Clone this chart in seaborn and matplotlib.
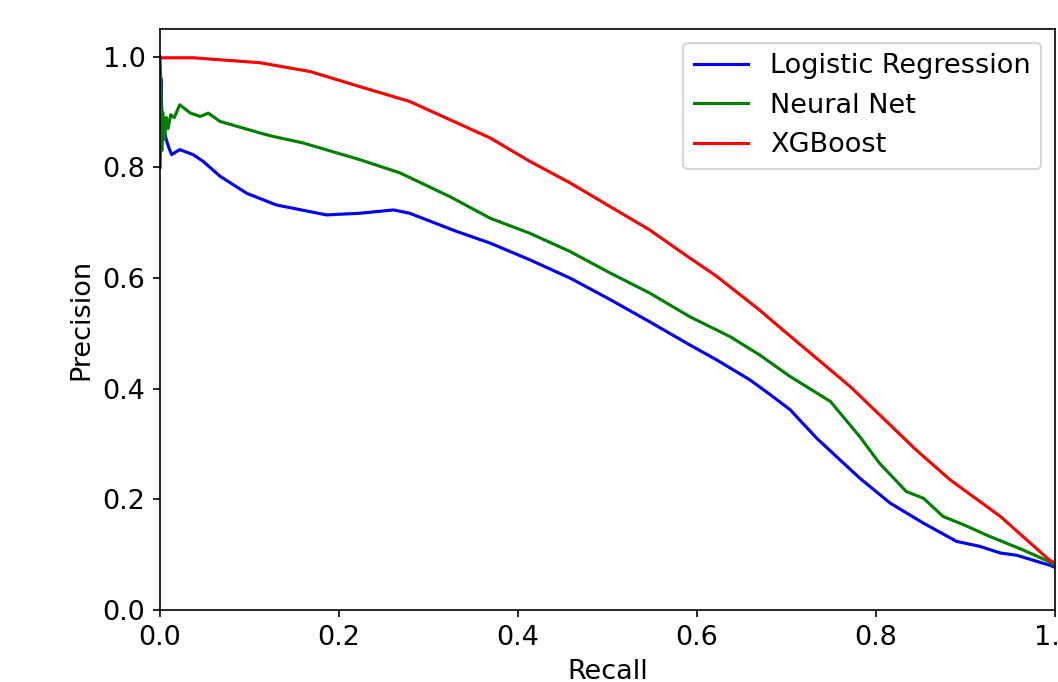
import numpy as np
import pandas as pd
import seaborn as sns
import matplotlib
matplotlib.use("Agg")
import matplotlib.pyplot as plt

plt.rcParams["font.size"] = 13

models = ["Logistic Regression", "Neural Net", "XGBoost"]
colors = ["blue", "green", "red"]

lr_recall = [0.0, 0.001, 0.002, 0.004, 0.007, 0.010, 0.013, 0.022, 0.037, 0.048, 0.067, 0.097, 0.130, 0.186, 0.223, 0.261, 0.279, 0.330, 0.369, 0.413, 0.458, 0.503, 0.547, 0.592, 0.622, 0.659, 0.682, 0.704, 0.734, 0.782, 0.816, 0.853, 0.890, 0.916, 0.939, 0.957, 0.994, 1.0]
lr_precision = [0.80, 0.96, 0.90, 0.87, 0.85, 0.835, 0.823, 0.832, 0.823, 0.811, 0.784, 0.753, 0.732, 0.714, 0.717, 0.723, 0.717, 0.685, 0.663, 0.633, 0.600, 0.561, 0.521, 0.479, 0.452, 0.416, 0.389, 0.362, 0.310, 0.238, 0.193, 0.157, 0.124, 0.115, 0.103, 0.099, 0.081, 0.077]

nn_recall = [0.0, 0.001, 0.002, 0.003, 0.005, 0.007, 0.009, 0.012, 0.016, 0.022, 0.034, 0.045, 0.054, 0.067, 0.112, 0.126, 0.160, 0.223, 0.268, 0.324, 0.369, 0.413, 0.458, 0.503, 0.547, 0.592, 0.637, 0.670, 0.704, 0.749, 0.782, 0.804, 0.834, 0.853, 0.875, 0.898, 0.927, 0.965, 0.994, 1.0]
nn_precision = [1.0, 0.95, 0.83, 0.90, 0.85, 0.89, 0.87, 0.895, 0.89, 0.913, 0.898, 0.892, 0.898, 0.883, 0.862, 0.856, 0.844, 0.814, 0.790, 0.747, 0.708, 0.681, 0.648, 0.609, 0.573, 0.530, 0.494, 0.461, 0.422, 0.377, 0.313, 0.265, 0.214, 0.202, 0.169, 0.154, 0.133, 0.108, 0.087, 0.08]

xgb_recall = [0.0, 0.037, 0.112, 0.168, 0.223, 0.279, 0.324, 0.369, 0.413, 0.458, 0.503, 0.547, 0.584, 0.622, 0.670, 0.696, 0.771, 0.845, 0.883, 0.939, 0.994, 1.0]
xgb_precision = [0.998, 0.998, 0.989, 0.973, 0.946, 0.919, 0.886, 0.853, 0.811, 0.772, 0.729, 0.687, 0.645, 0.603, 0.542, 0.506, 0.404, 0.289, 0.235, 0.169, 0.090, 0.085]

frames = []
for name, r, p in [(models[0], lr_recall, lr_precision),
                   (models[1], nn_recall, nn_precision),
                   (models[2], xgb_recall, xgb_precision)]:
    frames.append(pd.DataFrame({"Recall": r, "Precision": p, "model": name}))
df = pd.concat(frames, ignore_index=True)

dpi = 150
fig = plt.figure(figsize=(1058 / dpi, 682 / dpi), dpi=dpi)
ax = fig.add_axes([160 / 1058, (682 - 610) / 682, (1055 - 160) / 1058, (610 - 29) / 682])

sns.lineplot(data=df, x="Recall", y="Precision", hue="model", hue_order=models,
             palette=colors, sort=False, estimator=None, linewidth=1.5, ax=ax)

ax.set_xlim(0, 1.0)
ax.set_ylim(0, 1.05)
ax.set_xticks([0.0, 0.2, 0.4, 0.6, 0.8, 1.0])
ax.set_yticks([0.0, 0.2, 0.4, 0.6, 0.8, 1.0])
ax.set_xlabel("Recall")
ax.set_ylabel("Precision")
leg = ax.legend(loc="upper right", title=None)

fig.savefig("out.png", dpi=dpi)
